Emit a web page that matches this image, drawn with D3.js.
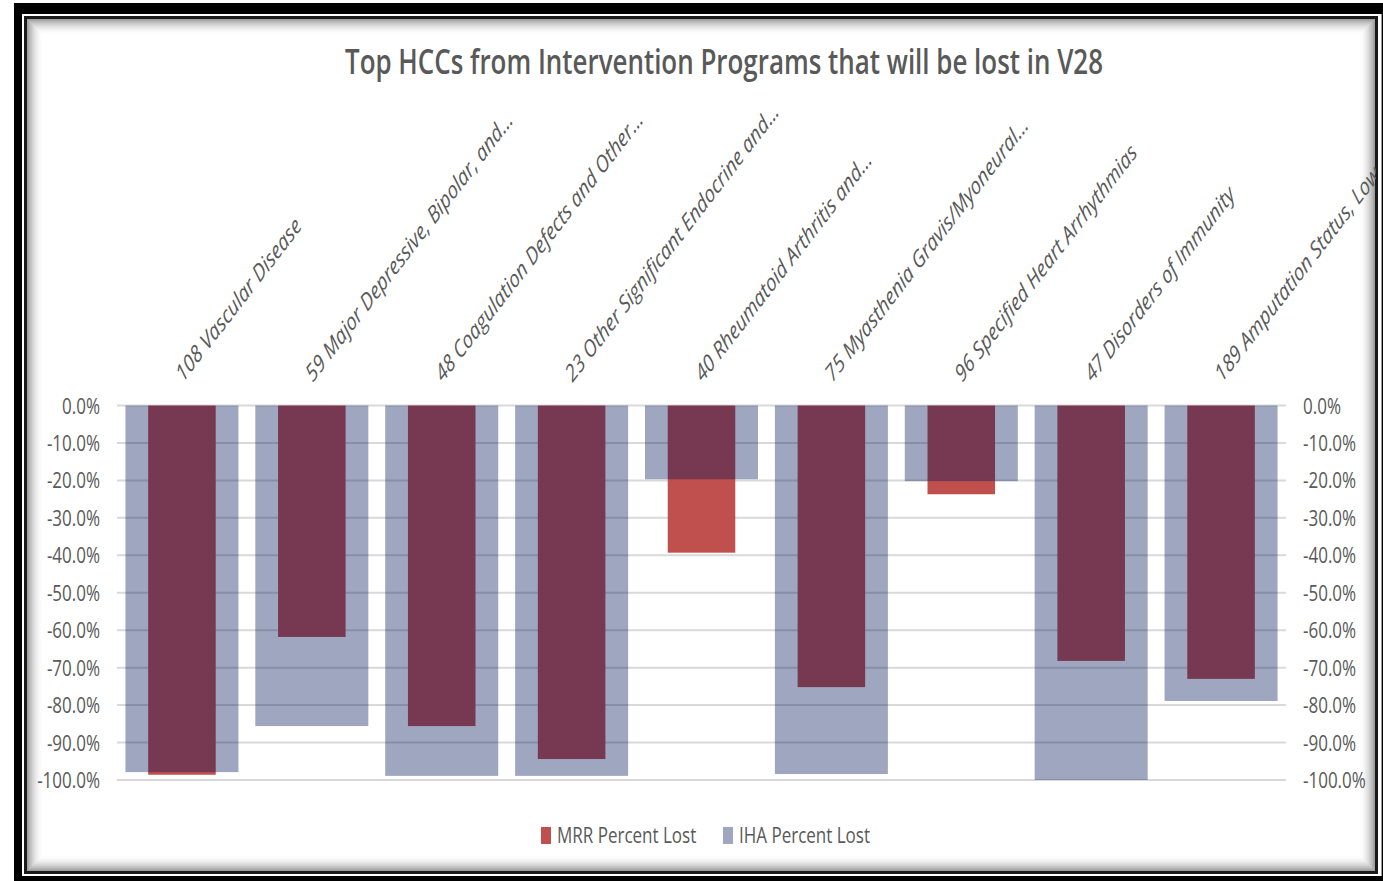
<!DOCTYPE html>
<html>
<head>
<meta charset="utf-8">
<script src="https://cdn.jsdelivr.net/npm/d3@7"></script>
<style>
  body { margin: 0; background: #fff; }
</style>
</head>
<body>
<svg id="chart" width="1383" height="881"></svg>
<script>
// data
const categories = [
    "108 Vascular Disease",
    "59 Major Depressive, Bipolar, and...",
    "48 Coagulation Defects and Other...",
    "23 Other Significant Endocrine and...",
    "40 Rheumatoid Arthritis and...",
    "75 Myasthenia Gravis/Myoneural...",
    "96 Specified Heart Arrhythmias",
    "47 Disorders of Immunity",
    "189 Amputation Status, Lower Limb..."
]
const mrrLost = [-0.986, -0.618, -0.856, -0.944, -0.393, -0.752, -0.237, -0.682, -0.730]
const ihaLost = [-0.979, -0.856, -0.989, -0.989, -0.197, -0.984, -0.202, -1.000, -0.789]
const tickValues = [0, -0.1, -0.2, -0.3, -0.4, -0.5, -0.6, -0.7, -0.8, -0.9, -1.0]
const seriesNames = ["MRR Percent Lost", "IHA Percent Lost"]
const chartTitle = "Top HCCs from Intervention Programs that will be lost in V28"

const width = 1383
const height = 881
const plot = {left: 117, right: 1286, top: 405.5, bottom: 780}
const stretchY = 1.28 // the picture is stretched vertically
const labelStretchY = 1.3
const textColor = "#595959"
const gridColor = "#d9d9d9"
const mrrColor = "#c0504d"
const ihaColor = "rgb(0, 20, 90)"
const ihaOpacity = 0.38
const fontFamily = "'Open Sans', sans-serif"

const svg = d3.select("#chart")

// frame
svg.append("rect").attr("width", width).attr("height", height).attr("fill", "#fff")
svg.append("rect")
    .attr("x", 14).attr("y", 3)
    .attr("width", width - 14).attr("height", height - 3)
    .attr("fill", "#000")
svg.append("rect")
    .attr("x", 22).attr("y", 14)
    .attr("width", 1359).attr("height", 862)
    .attr("fill", "#fff")
svg.append("line")
    .attr("x1", 1381.5).attr("x2", 1381.5)
    .attr("y1", 14).attr("y2", 876)
    .attr("stroke", "#999").attr("stroke-width", 1)

const frameGroup = svg.append("g")
frameGroup.append("rect")
    .attr("x", 25.5).attr("y", 17.5)
    .attr("width", 1351).attr("height", 855)
    .attr("fill", "none")
    .attr("stroke", "#1a1a1a")
    .attr("stroke-width", 3)
// soft inner shadow
d3.range(16).forEach(i => {
    frameGroup.append("rect")
        .attr("x", 27.5 + i).attr("y", 19.5 + i)
        .attr("width", 1347 - 2 * i).attr("height", 851 - 2 * i)
        .attr("fill", "none")
        .attr("stroke", "#000")
        .attr("stroke-opacity", 0.38 * Math.pow(1 - i / 16, 2))
        .attr("stroke-width", 1)
})

svg.append("clipPath").attr("id", "innerClip")
    .append("rect")
    .attr("x", 27).attr("y", 19)
    .attr("width", 1349).attr("height", 852)

// scales
const x = d3.scaleBand()
    .domain(categories)
    .range([plot.left, plot.right])
    .padding(0)
const y = d3.scaleLinear()
    .domain([-1, 0])
    .range([plot.bottom, plot.top])

const chartGroup = svg.append("g").attr("clip-path", "url(#innerClip)")

// title
chartGroup.append("text")
    .attr("transform", `translate(345, 74) scale(1, ${stretchY})`)
    .attr("textLength", 758)
    .attr("lengthAdjust", "spacingAndGlyphs")
    .attr("font-family", fontFamily)
    .attr("font-weight", 600)
    .attr("font-size", 27)
    .attr("fill", textColor)
    .text(chartTitle)

// gridlines
chartGroup.append("g")
    .selectAll("line")
    .data(tickValues)
    .join("line")
    .attr("x1", plot.left).attr("x2", plot.right)
    .attr("y1", d => y(d)).attr("y2", d => y(d))
    .attr("stroke", gridColor)
    .attr("stroke-width", 2)

// MRR bars (opaque, narrow) then IHA bars (translucent, wide) on top
const barData = categories.map((c, i) => ({cat: c, mrr: mrrLost[i], iha: ihaLost[i]}))
const bw = x.bandwidth()

chartGroup.append("g")
    .selectAll("rect")
    .data(barData)
    .join("rect")
    .attr("x", d => x(d.cat) + bw * (1 - 0.52) / 2)
    .attr("width", bw * 0.52)
    .attr("y", y(0))
    .attr("height", d => y(d.mrr) - y(0))
    .attr("fill", mrrColor)

chartGroup.append("g")
    .selectAll("rect")
    .data(barData)
    .join("rect")
    .attr("x", d => x(d.cat) + bw * (1 - 0.87) / 2)
    .attr("width", bw * 0.87)
    .attr("y", y(0))
    .attr("height", d => y(d.iha) - y(0))
    .attr("fill", ihaColor)
    .attr("fill-opacity", ihaOpacity)

// axes
const pctFormat = d => (d * 100).toFixed(1) + "%"

const leftAxis = chartGroup.append("g")
    .attr("transform", `translate(${plot.left}, 0)`)
    .call(d3.axisLeft(y).tickValues(tickValues).tickFormat(pctFormat).tickSize(0))
const rightAxis = chartGroup.append("g")
    .attr("transform", `translate(${plot.right}, 0)`)
    .call(d3.axisRight(y).tickValues(tickValues).tickFormat(pctFormat).tickSize(0))

;[[leftAxis, -17], [rightAxis, 17]].forEach(([g, dx]) => {
    g.select(".domain").remove()
    g.selectAll("text")
        .attr("x", 0).attr("y", 0).attr("dy", null)
        .attr("transform", `translate(${dx}, 7.5) scale(1, ${stretchY})`)
        .attr("font-family", fontFamily)
        .attr("font-size", 17)
        .attr("fill", textColor)
})

// category labels, rotated
chartGroup.append("g")
    .selectAll("text")
    .data(categories)
    .join("text")
    .attr("transform", d => `translate(${x(d) + bw / 2 + 1}, 383) scale(1, ${labelStretchY}) rotate(-45)`)
    .attr("font-family", fontFamily)
    .attr("font-style", "italic")
    .attr("font-size", 18.2)
    .attr("fill", textColor)
    .text(d => d)

// legend
const legendItems = [
    {name: seriesNames[0], color: mrrColor, opacity: 1, x: 541},
    {name: seriesNames[1], color: ihaColor, opacity: ihaOpacity, x: 723}
]
const legend = chartGroup.append("g")
legend.selectAll("rect")
    .data(legendItems)
    .join("rect")
    .attr("x", d => d.x).attr("y", 827)
    .attr("width", 10).attr("height", 17)
    .attr("fill", d => d.color)
    .attr("fill-opacity", d => d.opacity)
legend.selectAll("text")
    .data(legendItems)
    .join("text")
    .attr("transform", d => `translate(${d.x + 16}, 843) scale(1, ${stretchY})`)
    .attr("font-family", fontFamily)
    .attr("font-size", 17)
    .attr("fill", textColor)
    .text(d => d.name)
</script>
</body>
</html>
